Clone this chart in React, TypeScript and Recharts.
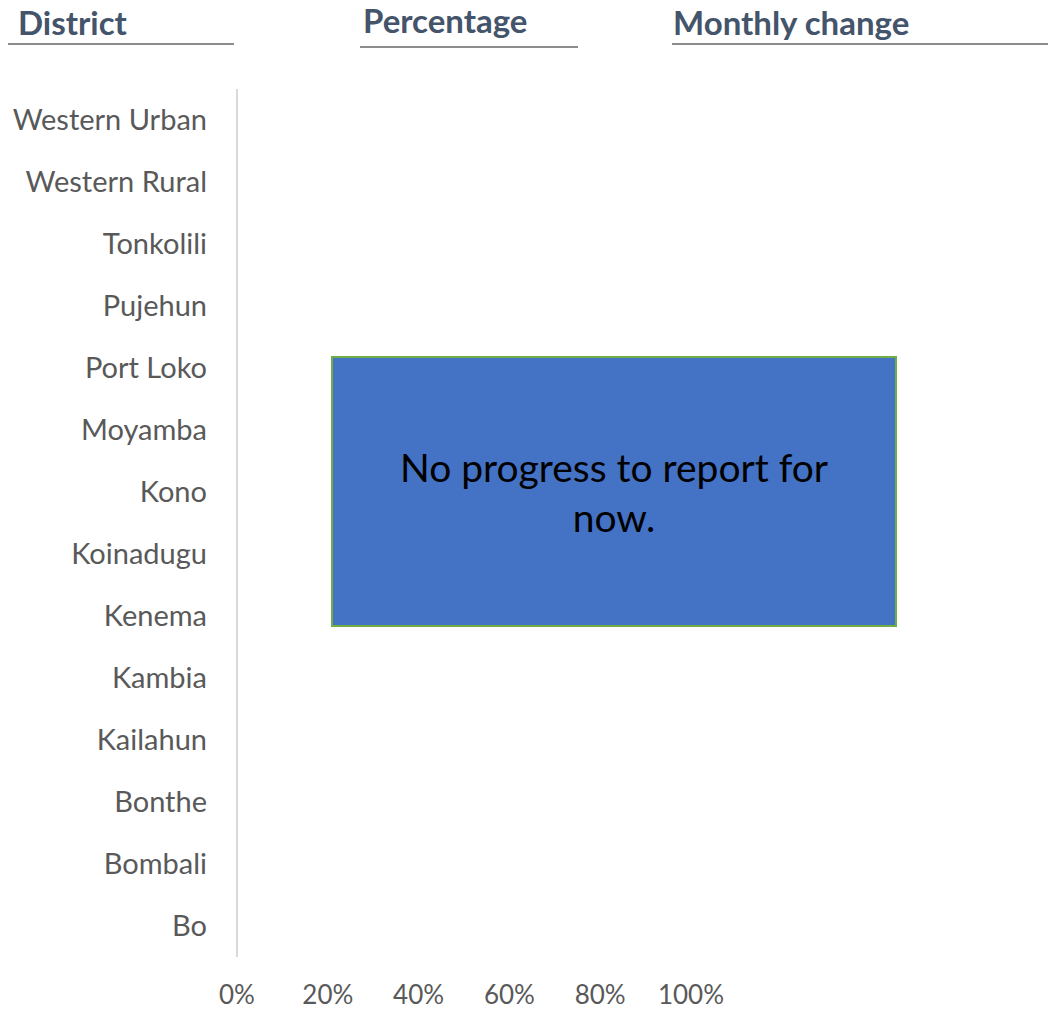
import React from "react";
import { BarChart, Bar, XAxis, YAxis } from "recharts";

const DISTRICTS = [
  "Bo",
  "Bombali",
  "Bonthe",
  "Kailahun",
  "Kambia",
  "Kenema",
  "Koinadugu",
  "Kono",
  "Moyamba",
  "Port Loko",
  "Pujehun",
  "Tonkolili",
  "Western Rural",
  "Western Urban",
];

// no progress reported yet, every district sits at 0%
const PERCENTAGES = [0, 0, 0, 0, 0, 0, 0, 0, 0, 0, 0, 0, 0, 0];

const X_TICKS = [0, 0.2, 0.4, 0.6, 0.8, 1];

const HEADERS = [
  { text: "District", x: 18, y: 2, lineLeft: 8, lineRight: 234, lineY: 43 },
  { text: "Percentage", x: 363, y: 0, lineLeft: 360, lineRight: 578, lineY: 46 },
  { text: "Monthly change", x: 673, y: 2, lineLeft: 672, lineRight: 1048, lineY: 43 },
];

const FONT = "Lato, 'Open Sans', sans-serif";

export default function App() {
  const data = DISTRICTS.map((d, i) => ({ district: d, pct: PERCENTAGES[i] }));

  return (
    <div
      style={{
        position: "absolute",
        left: 0,
        top: 0,
        width: 1048,
        height: 1011,
        background: "#fff",
        fontFamily: FONT,
      }}
    >
      {HEADERS.map((h) => (
        <React.Fragment key={h.text}>
          <div
            style={{
              position: "absolute",
              left: h.x,
              top: h.y,
              fontSize: 33,
              fontWeight: 700,
              color: "#44546A",
              whiteSpace: "nowrap",
              lineHeight: "40px",
            }}
          >
            {h.text}
          </div>
          <div
            style={{
              position: "absolute",
              left: h.lineLeft,
              top: h.lineY,
              width: h.lineRight - h.lineLeft,
              height: 2,
              background: "#8C8C8C",
            }}
          />
        </React.Fragment>
      ))}

      <div style={{ position: "absolute", left: 0, top: 0 }}>
        <BarChart
          width={1048}
          height={1011}
          data={data}
          layout="vertical"
          margin={{ top: 89, right: 357, bottom: 0, left: 0 }}
        >
          <XAxis
            type="number"
            domain={[0, 1]}
            allowDataOverflow
            ticks={X_TICKS}
            tickFormatter={(v: number) => `${Math.round(v * 100)}%`}
            axisLine={false}
            tickLine={false}
            tickSize={0}
            tickMargin={29}
            interval={0}
            tick={{ fontSize: 26, fill: "#595959", fontFamily: FONT }}
            height={54}
          />
          <YAxis
            type="category"
            dataKey="district"
            reversed
            width={237}
            axisLine={{ stroke: "#D9D9D9", strokeWidth: 2 }}
            tickLine={false}
            tickSize={0}
            tickMargin={30}
            interval={0}
            tick={{ fontSize: 29, fill: "#595959", fontFamily: FONT }}
          />
          <Bar dataKey="pct" fill="#4472C4" isAnimationActive={false} />
        </BarChart>
      </div>

      <div
        style={{
          position: "absolute",
          left: 331,
          top: 356,
          width: 562,
          height: 267,
          background: "#4472C4",
          border: "2px solid #70AD47",
          display: "flex",
          alignItems: "center",
          justifyContent: "center",
          textAlign: "center",
          color: "#000",
          fontSize: 39,
          lineHeight: "50px",
          fontFamily: FONT,
          boxSizing: "content-box",
        }}
      >
        <div style={{ width: 480 }}>No progress to report for now.</div>
      </div>
    </div>
  );
}
